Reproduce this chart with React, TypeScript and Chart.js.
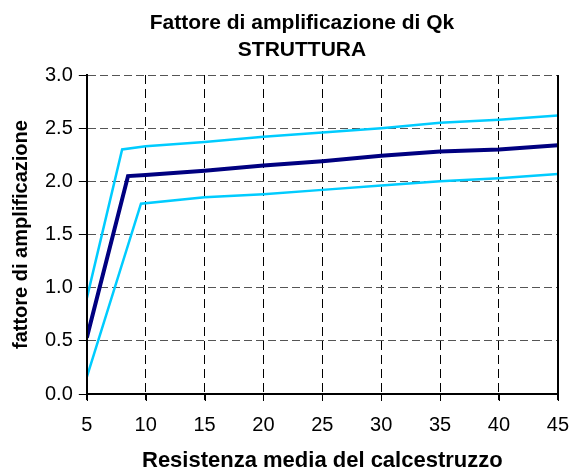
import React, { useEffect, useRef } from 'react';
import { Chart, registerables } from 'chart.js';

Chart.register(...registerables);

// ---- text ----
const TITLE_LINES = ['Fattore di amplificazione di Qk', 'STRUTTURA'];
const X_TITLE = 'Resistenza media del calcestruzzo';
const Y_TITLE = 'fattore di amplificazione';

// ---- axis ranges / ticks ----
const X_MIN = 5;
const X_MAX = 45;
const X_STEP = 5;
const Y_MIN = 0;
const Y_MAX = 3;
const Y_STEP = 0.5;

// ---- series ----
const upperX = [5, 8, 10, 15, 20, 25, 30, 35, 40, 45];
const upperY = [0.9, 2.3, 2.33, 2.37, 2.42, 2.46, 2.5, 2.55, 2.58, 2.62];

const meanX = [5, 8.5, 10, 15, 20, 25, 30, 35, 40, 45];
const meanY = [0.53, 2.05, 2.06, 2.1, 2.15, 2.19, 2.24, 2.28, 2.3, 2.34];

const lowerX = [5, 9.6, 15, 20, 25, 30, 35, 40, 45];
const lowerY = [0.16, 1.79, 1.85, 1.88, 1.92, 1.96, 2.0, 2.03, 2.07];

const FONT = '"Liberation Sans", Arial, Helvetica, sans-serif';

const toPoints = (xs: number[], ys: number[]) => xs.map((x, i) => ({ x, y: ys[i] }));

const titlePlugin = {
  id: 'twoLineTitle',
  afterDraw(chart: any) {
    const ctx = chart.ctx;
    ctx.save();
    ctx.font = `bold 21px ${FONT}`;
    ctx.fillStyle = '#000';
    ctx.textAlign = 'center';
    ctx.textBaseline = 'alphabetic';
    TITLE_LINES.forEach((t, i) => ctx.fillText(t, 302, 29 + i * 27));
    ctx.restore();
  },
};

// solid frame on the right and bottom of the plot, with the x tick marks
const framePlugin = {
  id: 'plotFrame',
  afterDraw(chart: any) {
    const { ctx, chartArea, scales } = chart;
    const xr = Math.round(chartArea.right);
    const yb = Math.round(chartArea.bottom);
    ctx.save();
    ctx.strokeStyle = '#000';
    ctx.setLineDash([]);
    ctx.lineWidth = 2;
    ctx.beginPath();
    ctx.moveTo(xr, chartArea.top);
    ctx.lineTo(xr, yb + 1);
    ctx.moveTo(Math.round(chartArea.left) - 1, yb);
    ctx.lineTo(xr + 1, yb);
    ctx.stroke();
    ctx.lineWidth = 1;
    ctx.beginPath();
    scales.x.ticks.forEach((t: any) => {
      const px = Math.round(scales.x.getPixelForValue(t.value)) + 0.5;
      ctx.moveTo(px, yb);
      ctx.lineTo(px, yb + 7);
    });
    ctx.stroke();
    ctx.restore();
  },
};

export default function App() {
  const canvasRef = useRef<HTMLCanvasElement | null>(null);

  useEffect(() => {
    if (!canvasRef.current) return;
    const chart = new Chart(canvasRef.current, {
      type: 'line',
      data: {
        datasets: [
          {
            label: 'upper',
            data: toPoints(upperX, upperY),
            borderColor: '#00CCFF',
            borderWidth: 2.5,
            pointRadius: 0,
            tension: 0,
            fill: false,
          },
          {
            label: 'lower',
            data: toPoints(lowerX, lowerY),
            borderColor: '#00CCFF',
            borderWidth: 2.5,
            pointRadius: 0,
            tension: 0,
            fill: false,
          },
          {
            label: 'mean',
            data: toPoints(meanX, meanY),
            borderColor: '#000080',
            borderWidth: 4,
            pointRadius: 0,
            tension: 0,
            fill: false,
          },
        ],
      },
      options: {
        responsive: false,
        animation: false,
        devicePixelRatio: 1,
        layout: { padding: { top: 75, right: 0, bottom: 0, left: 0 } },
        plugins: {
          legend: { display: false },
          title: { display: false },
          tooltip: { enabled: false },
        },
        scales: {
          x: {
            type: 'linear',
            min: X_MIN,
            max: X_MAX,
            ticks: {
              stepSize: X_STEP,
              color: '#000',
              padding: 2,
              maxRotation: 0,
              font: { family: FONT, size: 20, lineHeight: 2.3 },
            },
            grid: {
              color: (c: any) => (c.tick && c.tick.value === X_MIN ? 'rgba(0,0,0,0)' : '#000'),
              lineWidth: 1,
              tickLength: 6,
              tickColor: '#000',
              tickWidth: 1,
            },
            border: { display: true, color: '#000', width: 2, dash: [9, 5], z: 1 },
            title: {
              display: true,
              text: X_TITLE,
              color: '#000',
              font: { family: FONT, size: 22, weight: 'bold', lineHeight: 0.95 },
              padding: { top: 0, bottom: 0 },
            },
          },
          y: {
            type: 'linear',
            min: Y_MIN,
            max: Y_MAX,
            ticks: {
              stepSize: Y_STEP,
              color: '#000',
              padding: 6,
              font: { family: FONT, size: 20 },
              callback: (v: any) => Number(v).toFixed(1),
            },
            grid: {
              color: (c: any) => (c.tick && c.tick.value === Y_MIN ? 'rgba(0,0,0,0)' : '#555'),
              lineWidth: 1,
              tickLength: 8,
              tickColor: '#000',
              tickWidth: 1,
            },
            border: { display: true, color: '#000', width: 2, dash: [8, 4], z: 1 },
            title: {
              display: true,
              text: Y_TITLE,
              color: '#000',
              font: { family: FONT, size: 20, weight: 'bold', lineHeight: 1.2 },
              padding: { top: 9, bottom: 6 },
            },
          },
        },
      },
      plugins: [titlePlugin, framePlugin],
    });
    return () => chart.destroy();
  }, []);

  return (
    <div style={{ position: 'absolute', left: 0, top: 0, width: 571, height: 471, background: '#fff' }}>
      <canvas ref={canvasRef} width={571} height={471} />
    </div>
  );
}
